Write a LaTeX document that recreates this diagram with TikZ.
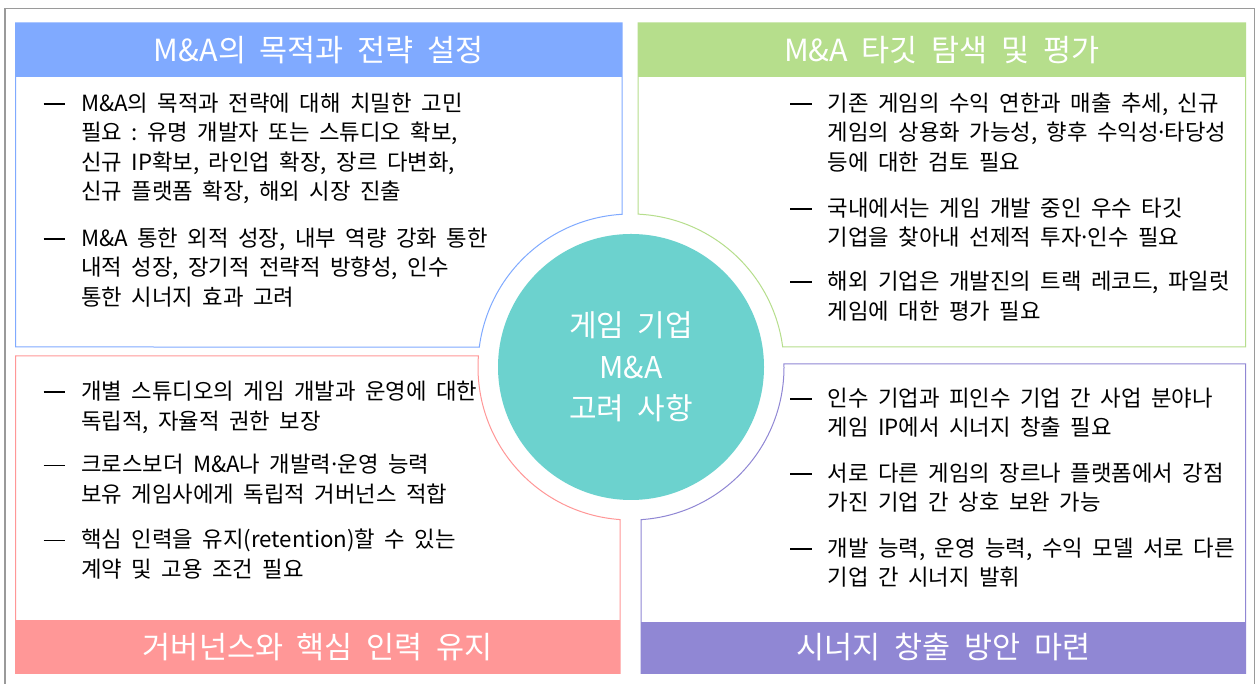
\documentclass[tikz,border=0pt]{standalone}
\usepackage{fontspec}
\setmainfont[WordSpace=2]{Noto Sans CJK KR}
\definecolor{blueC}{HTML}{80AAFF}
\definecolor{greenC}{HTML}{B6DE8C}
\definecolor{pinkC}{HTML}{FF9797}
\definecolor{purpleC}{HTML}{9087D4}
\definecolor{tealC}{HTML}{6CD2CE}
\definecolor{frameC}{HTML}{9A9A9A}
\newcommand{\dsh}{\leavevmode\spaceskip=9.5pt\relax\xspaceskip=9.5pt\relax\llap{\rule[0.3em]{21.5pt}{1.6pt}\hspace{16pt}}}
\newcommand{\mdot}{\makebox[6pt]{·}}
\begin{document}
\begin{tikzpicture}[x=1pt,y=1pt,
  boxline/.style={line width=1pt, fill=white},
  hdr/.style={inner sep=0pt, text=white, font=\fontsize{30.5}{34}\selectfont},
  bodytext/.style={anchor=base west, inner sep=0pt, text width=560pt, align=left,
    font=\fontsize{22.3}{29.5}\selectfont, text=black},
  hubstyle/.style={circle, fill=tealC, minimum size=266pt, inner sep=0pt, text=white,
    align=center, font=\fontsize{30}{41.5}\selectfont}]
\useasboundingbox (0,0) rectangle (1259,684);
\fill[white] (0,0) rectangle (1259,684);
\draw[frameC, line width=1.6pt] (5,0) -- (5,675.5) -- (1254.5,675.5) -- (1254.5,0);
% blue box (top left)
\draw[blueC, boxline] (15.5,661) -- (622,661) -- (622,469.7)
  arc[start angle=93.37, end angle=172.49, radius=153] -- (15.5,337) -- cycle;
\node[hdr, fill=blueC, minimum width=606.5pt, minimum height=54pt] (hb) at (318.75,634) {M\&A의 목적과 전략 설정};
% green box (top right)
\draw[greenC, boxline] (638,661) -- (1245.7,661) -- (1245.7,337) -- (782.7,337)
  arc[start angle=7.51, end angle=87.38, radius=153] -- cycle;
\node[hdr, fill=greenC, minimum width=608.1pt, minimum height=54pt] (hg) at (941.65,634) {M\&A 타깃 탐색 및 평가};
% pink box (bottom left)
\draw[pinkC, boxline] (15.5,328) -- (478.4,328)
  arc[start angle=175.88, end angle=265.88, radius=153] -- (620,10.7) -- (15.5,10.7) -- cycle;
\node[hdr, fill=pinkC, minimum width=604.5pt, minimum height=53.3pt] (hp) at (317.75,37.35) {거버넌스와 핵심 인력 유지};
% purple box (bottom right)
\draw[purpleC, boxline] (641,10.7) -- (1245.7,10.7) -- (1245.7,320) -- (783.97,320)
  arc[start angle=1.12, end angle=-86.25, radius=153] -- cycle;
\node[hdr, fill=purpleC, minimum width=604.7pt, minimum height=51.6pt] (hu) at (943.35,36.5) {시너지 창출 방안 마련};
% hub
\node[hubstyle] (hub) at (631,317) {게임 기업\\M\&A\\고려 사항};
% blue texts
\node[bodytext] (b1) at (80.8,572.7) {\dsh M\&A의 목적과 전략에 대해 치밀한 고민\\필요 : 유명 개발자 또는 스튜디오 확보,\\신규 IP확보, 라인업 확장, 장르 다변화,\\신규 플랫폼 확장, 해외 시장 진출};
\node[bodytext] (b2) at (80.8,437.7) {\dsh M\&A 통한 외적 성장, 내부 역량 강화 통한\\내적 성장, 장기적 전략적 방향성, 인수\\통한 시너지 효과 고려};
% green texts
\node[bodytext] (g1) at (827.3,572.7) {\dsh 기존 게임의 수익 연한과 매출 추세, 신규\\게임의 상용화 가능성, 향후 수익성\mdot 타당성\\등에 대한 검토 필요};
\node[bodytext] (g2) at (827.3,467.7) {\dsh 국내에서는 게임 개발 중인 우수 타깃\\기업을 찾아내 선제적 투자\mdot 인수 필요};
\node[bodytext] (g3) at (827.3,394.3) {\dsh 해외 기업은 개발진의 트랙 레코드, 파일럿\\게임에 대한 평가 필요};
% pink texts
\node[bodytext] (p1) at (80.8,284.3) {\dsh 개별 스튜디오의 게임 개발과 운영에 대한\\독립적, 자율적 권한 보장};
\node[bodytext] (p2) at (80.8,211) {\dsh 크로스보더 M\&A나 개발력\mdot 운영 능력\\보유 게임사에게 독립적 거버넌스 적합};
\node[bodytext] (p3) at (80.8,136) {\dsh 핵심 인력을 유지(retention)할 수 있는\\계약 및 고용 조건 필요};
% purple texts
\node[bodytext] (u1) at (827.3,277.7) {\dsh 인수 기업과 피인수 기업 간 사업 분야나\\게임 IP에서 시너지 창출 필요};
\node[bodytext] (u2) at (827.3,202.7) {\dsh 서로 다른 게임의 장르나 플랫폼에서 강점\\가진 기업 간 상호 보완 가능};
\node[bodytext] (u3) at (827.3,127.7) {\dsh 개발 능력, 운영 능력, 수익 모델 서로 다른\\기업 간 시너지 발휘};
\end{tikzpicture}
\end{document}
